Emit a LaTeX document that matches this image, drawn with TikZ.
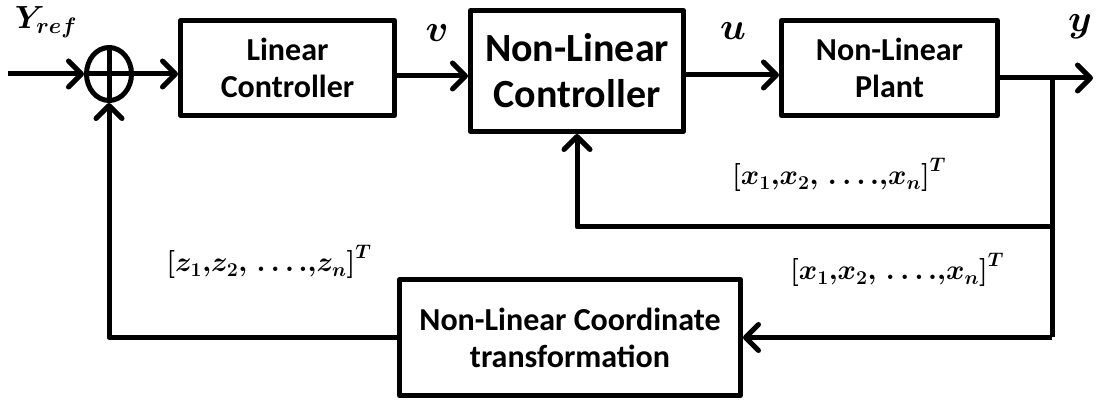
\RequirePackage{fix-cm}
\documentclass[tikz,border=0pt]{standalone}
\usepackage{fontspec}
\setmainfont{Carlito}
\usepackage{amsmath,bm}
\usetikzlibrary{arrows.meta,shapes.geometric}
\begin{document}
\begin{tikzpicture}[x=1pt,y=-1pt,line width=5pt,line join=round,
  blk/.style={draw,rectangle,line width=5pt,align=center,inner sep=0pt,
    font=\bfseries\fontsize{32}{37}\selectfont},
  big/.style={font=\bfseries\fontsize{40}{46}\selectfont},
  arr/.style={-{Straight Barb[round,length=13pt,width=26pt]}},
  lab/.style={inner sep=0pt,font=\fontsize{28}{32}\selectfont},
  var/.style={inner sep=0pt,font=\fontsize{38}{42}\selectfont}]
\useasboundingbox (0,0) rectangle (1096,403);
\node[draw,ellipse,minimum width=45pt,minimum height=53pt,inner sep=0pt] (sum) at (109,74) {};
\draw (sum.north) -- (sum.south) (sum.west) -- (sum.east);
\node[blk,minimum width=214pt,minimum height=95pt] (lc) at (287.5,68) {Linear\\Controller};
\node[blk,big,minimum width=213pt,minimum height=121pt] (nlc) at (577,71) {Non-Linear\\Controller};
\node[blk,minimum width=216pt,minimum height=95pt] (plant) at (889.5,68) {Non-Linear\\Plant};
\node[blk,minimum width=341pt,minimum height=116pt] (coord) at (570,337.5) {Non-Linear Coordinate\\transformation};
\coordinate (in) at (8,74);
\coordinate (out) at (1093,78);
\coordinate (br1) at (1052,78);
\coordinate (br2) at (1052,227);
\coordinate (br3) at (1052,337.5);
\draw[arr] (in) -- (sum.west);
\draw[arr] (sum.east) -- (sum.east -| lc.west);
\draw[arr] ([yshift=-8pt]lc.east) -- ([yshift=-8pt]lc.east -| nlc.west);
\draw[arr] ([yshift=-7pt]plant.west -| nlc.east) -- ([yshift=-7pt]plant.west);
\draw[arr] (plant.east |- out) -- (out);
\draw (br1) -- (br3);
\draw[arr] (br2) -- (br2 -| nlc.south) -- (nlc.south);
\draw[arr] (br3) -- (coord.east);
\draw[arr] (coord.west) -- (coord.west -| sum.south) -- (sum.south);
\node[inner sep=0pt,font=\fontsize{32}{36}\selectfont] (yref) at (46,22) {$\bm{Y_{ref}}$};
\node[var] (v) at (437,33) {$\bm{v}$};
\node[var] (u) at (733,31) {$\bm{u}$};
\node[var] (y) at (1080,27) {$\bm{y}$};
\node[lab] (x1) at (839,175) {$\bm{[x_1{,}x_2{,}\,\ldots.{,}x_n]^T}$};
\node[lab] (x2) at (897,270) {$\bm{[x_1{,}x_2{,}\,\ldots.{,}x_n]^T}$};
\node[lab] (z) at (269,262) {$\bm{[z_1{,}z_2{,}\,\ldots.{,}z_n]^T}$};
\end{tikzpicture}
\end{document}
